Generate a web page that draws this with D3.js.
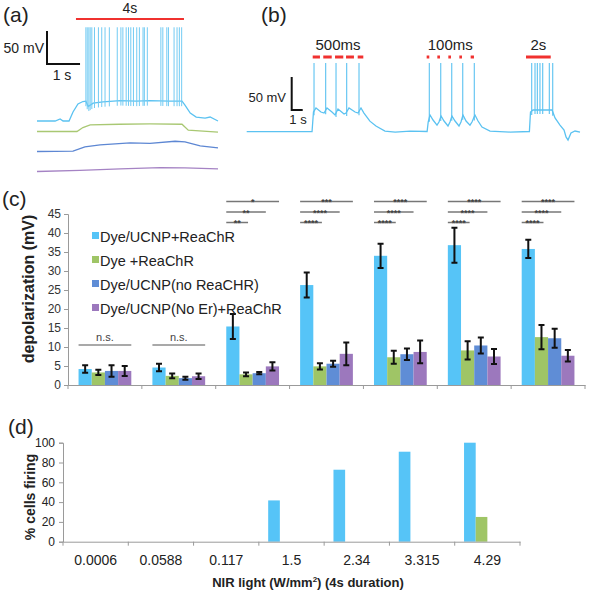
<!DOCTYPE html>
<html><head><meta charset="utf-8">
<script src="https://cdn.jsdelivr.net/npm/d3@7"></script>
<style>body{margin:0;background:#fff}svg{display:block}text{font-family:Arial,"Liberation Sans",sans-serif}</style>
</head><body><svg id="c" width="600" height="590"></svg>
<script>
// ---------- DATA ----------
const intensities = ["0.0006","0.0588","0.117","1.5","2.34","3.315","4.29"];
const seriesNames = ["Dye/UCNP+ReaChR","Dye +ReaChR","Dye/UCNP(no ReaCHR)","Dye/UCNP(No Er)+ReaChR"];
const seriesColors = ["#56c4f7","#9fc566","#5f8dd6","#9c78bd"];
const depolMean = [
  [4.2, 4.6, 15.4, 26.3, 34.0, 36.8, 35.8],
  [3.3, 2.4, 2.8, 4.9, 7.3, 9.1, 12.6],
  [3.7, 1.8, 3.1, 5.6, 8.1, 10.4, 12.3],
  [3.7, 2.3, 4.9, 8.2, 8.7, 7.5, 7.7]
];
const depolErr = [
  [1.0, 1.0, 3.3, 3.3, 3.2, 4.6, 2.4],
  [0.7, 0.6, 0.5, 0.8, 1.7, 2.4, 3.2],
  [1.5, 0.4, 0.3, 0.8, 1.5, 2.1, 2.5],
  [1.3, 0.7, 1.1, 3.0, 3.0, 2.0, 1.5]
];
const depolTicks = [0,5,10,15,20,25,30,35,40,45];
// significance: [groupIndex, [vs purple, vs dark blue, vs green]]
const sigGroups = [2,3,4,5,6];
const sigLabels = [["*","**","**"],["***","****","****"],["****","****","****"],["****","****","****"],["****","****","****"]];
const nsGroups = [0,1];
const firingPct = [
  [0, 0, 0, 41.7, 72.7, 90.9, 100],
  [0, 0, 0, 0, 0, 0, 25]
];
const firingTicks = [0,20,40,60,80,100];

// Panel (a) traces: [time s, mV relative to rest]
const traceA_blue = [[0,0],[0.55,0],[0.70,3],[0.79,0],[0.97,0],[1.09,13.6],[1.24,25.8],[1.39,29.5],[1.48,30],[1.55,22],[1.7,27],[2.0,29],[2.52,31],[3.0,30],[3.42,31],[4.0,30],[4.39,30],[4.48,24],[4.64,12],[4.82,6],[5.09,4.5],[5.24,6],[5.48,0]];
const spikesA = [1.48,1.52,1.57,1.61,1.66,1.74,1.86,1.96,2.06,2.19,2.43,2.54,2.60,2.70,2.77,2.84,2.92,3.02,3.10,3.21,3.25,3.34,3.75,3.81,3.93,3.98,4.15,4.24,4.31,4.38];
const spikePeakA = 142;
const traceA_green = [[0,0],[1.21,0],[1.39,6],[1.61,10],[2.5,11],[3.42,11.5],[4.39,11],[4.58,2],[5.48,-0.8]];
const traceA_dblue = [[0,0],[1.09,0.5],[1.45,7],[1.91,10],[2.82,13],[3.42,12.4],[4.18,15.5],[4.48,14.7],[4.94,8.6],[5.48,5.6]];
const traceA_purple = [[0,0],[1.3,1.8],[2.52,4],[3.73,6],[4.48,5.6],[5.48,4]];
const stimA = [1.18, 4.45];

// Panel (b) trace
const traceB = [[0,0],[5.94,0],[6.07,29.8],[6.3,35.9],[6.75,29.8],[7.03,28.3],[7.3,35.9],[7.75,29.8],[8.03,25.3],[8.3,34.4],[8.85,26.8],[9.03,28.3],[9.3,35.9],[9.85,29.8],[10.12,28.3],[10.39,35.9],[10.66,28.3],[11.2,16],[11.75,8.6],[12.57,1],[13.5,-0.5],[14.85,1],[16.4,0.3],[16.5,14.7],[16.66,25.3],[16.94,17.7],[17.3,10],[17.48,14.7],[17.67,23.8],[17.94,16.2],[18.3,8.6],[18.48,14.7],[18.66,23.8],[18.94,16.2],[19.3,8.6],[19.48,14.7],[19.66,25.3],[19.94,16.2],[20.3,10],[20.48,14.7],[20.75,25.3],[21.03,16.2],[21.39,7.1],[22.12,1],[23.94,-0.5],[25.7,0.3],[25.8,29.8],[26.03,32.9],[27.76,32.9],[28.03,20.8],[28.48,10],[28.85,2.6],[29.03,-8],[29.21,-12.6],[29.48,-2],[29.85,1],[30.3,-0.5]];
const spikesB = [6.12,7.18,8.12,9.09,10.21,16.6,17.64,18.64,19.64,20.69,25.91,26.21,26.42,26.66,26.91,27.51,27.82];
const spikePeakB = 104;
const stimB500 = [[6.0,6.66],[6.96,7.73],[8.03,8.78],[9.03,9.75],[10.09,10.6]];
const stimB100 = [[16.36,16.6],[17.33,17.57],[18.33,18.57],[19.33,19.57],[20.36,20.66]];
const stimB2s = [[25.39,27.64]];

// ---------- DRAW ----------
const svg = d3.select("#c");
const axisGray = "#9a9a9a", textCol = "#222";

function panelLabel(t,x,y){svg.append("text").attr("x",x).attr("y",y).attr("font-size",21).attr("fill",textCol).text(t);}
panelLabel("(a)",3,22); panelLabel("(b)",261,22); panelLabel("(c)",2,206); panelLabel("(d)",8,434);

// Panel (a)
const xA = d3.scaleLinear().domain([0,5.48]).range([37,218]);
const mvPx = 33/50;
const traceBlue = "#5bc2f1";
function drawTrace(data, base, color, xs){
  const y = d3.scaleLinear().domain([0,50]).range([base, base-50*mvPx]);
  svg.append("path").datum(data).attr("fill","none").attr("stroke",color).attr("stroke-width",1.3)
    .attr("d", d3.line().x(d=>xs(d[0])).y(d=>y(d[1])));
  return y;
}
const yAblue = drawTrace(traceA_blue,121,traceBlue,xA);
drawTrace(traceA_green,131.5,"#a9c873",xA);
drawTrace(traceA_dblue,151.5,"#5d87d3",xA);
drawTrace(traceA_purple,171.5,"#a583c4",xA);
const interpA = d3.scaleLinear().domain(traceA_blue.map(d=>d[0])).range(traceA_blue.map(d=>d[1]));
svg.append("g").selectAll("line").data(spikesA).join("line")
  .attr("x1",d=>xA(d)).attr("x2",d=>xA(d)).attr("y1",d=>yAblue(interpA(d))+5).attr("y2",yAblue(spikePeakA))
  .attr("stroke","#72cbf3").attr("stroke-width",1);
svg.append("line").attr("x1",xA(stimA[0])).attr("x2",xA(stimA[1])).attr("y1",19).attr("y2",19).attr("stroke","#f0312f").attr("stroke-width",2);
svg.append("text").attr("x",(xA(stimA[0])+xA(stimA[1]))/2).attr("y",13).attr("text-anchor","middle").attr("font-size",14).attr("fill",textCol).text("4s");
// scale bar a
const sbAx = 47, sbAy = 64;
svg.append("path").attr("d",`M${sbAx},${sbAy-50*mvPx}V${sbAy}H${sbAx + xA(1)-xA(0)}`).attr("fill","none").attr("stroke","#111").attr("stroke-width",2);
svg.append("text").attr("x",44).attr("y",53).attr("text-anchor","end").attr("font-size",14).attr("fill",textCol).text("50 mV");
svg.append("text").attr("x",62).attr("y",80).attr("text-anchor","middle").attr("font-size",14).attr("fill",textCol).text("1 s");

// Panel (b)
const xB = d3.scaleLinear().domain([0,30]).range([246.7,576.7]);
const yB = drawTrace(traceB,131.7,traceBlue,xB);
const interpB = d3.scaleLinear().domain(traceB.map(d=>d[0])).range(traceB.map(d=>d[1]));
svg.append("g").selectAll("line").data(spikesB).join("line")
  .attr("x1",d=>xB(d)).attr("x2",d=>xB(d)).attr("y1",d=>yB(interpB(d))+4).attr("y2",yB(spikePeakB))
  .attr("stroke",traceBlue).attr("stroke-width",1.1);
svg.append("g").selectAll("line").data(stimB500.concat(stimB100,stimB2s)).join("line")
  .attr("x1",d=>xB(d[0])).attr("x2",d=>xB(d[1])).attr("y1",57).attr("y2",57).attr("stroke","#f0312f").attr("stroke-width",3);
[["500ms",stimB500],["100ms",stimB100],["2s",stimB2s]].forEach(([t,s])=>{
  svg.append("text").attr("x",(xB(s[0][0])+xB(s[s.length-1][1]))/2).attr("y",50).attr("text-anchor","middle")
    .attr("font-size",15).attr("fill",textCol).text(t);
});
const sbBx = 291.7, sbBy = 110;
svg.append("path").attr("d",`M${sbBx},${sbBy-50*mvPx}V${sbBy}H${sbBx + xB(1)-xB(0)}`).attr("fill","none").attr("stroke","#111").attr("stroke-width",2);
svg.append("text").attr("x",286).attr("y",102).attr("text-anchor","end").attr("font-size",13).attr("fill",textCol).text("50 mV");
svg.append("text").attr("x",298).attr("y",124).attr("text-anchor","middle").attr("font-size",13).attr("fill",textCol).text("1 s");

// Panel (c)
const x0c = d3.scaleBand().domain(intensities).range([68,585]).padding(0);
const x1c = d3.scaleBand().domain(d3.range(4)).range([0,x0c.bandwidth()]).paddingInner(0).paddingOuter(0.8);
const yc = d3.scaleLinear().domain([0,45]).range([385,214]);
const gc = svg.append("g");
seriesNames.forEach((s,si)=>{
  gc.append("g").selectAll("rect").data(intensities).join("rect")
    .attr("x",c=>x0c(c)+x1c(si)).attr("width",x1c.bandwidth())
    .attr("y",(c,i)=>yc(depolMean[si][i])).attr("height",(c,i)=>yc(0)-yc(depolMean[si][i]))
    .attr("fill",seriesColors[si]);
});
seriesNames.forEach((s,si)=>{
  intensities.forEach((c,i)=>{
    const cx = x0c(c)+x1c(si)+x1c.bandwidth()/2;
    const hi = yc(depolMean[si][i]+depolErr[si][i]), lo = yc(depolMean[si][i]-depolErr[si][i]);
    gc.append("path").attr("d",`M${cx},${hi}V${lo}M${cx-3},${hi}H${cx+3}M${cx-3},${lo}H${cx+3}`)
      .attr("stroke","#111").attr("stroke-width",2).attr("fill","none");
  });
});
const yAxC = gc.append("g").attr("transform","translate(68,0)").call(d3.axisLeft(yc).tickValues(depolTicks).tickSize(4).tickPadding(3));
const xAxC = gc.append("g").attr("transform","translate(0,385)").call(d3.axisBottom(x0c).tickValues([]).tickSizeOuter(0));
xAxC.selectAll(".b").data(intensities.concat(["end"])).join("line").attr("class","b")
  .attr("x1",(c,i)=>i<7?x0c(c):585).attr("x2",(c,i)=>i<7?x0c(c):585).attr("y1",0).attr("y2",4).attr("stroke",axisGray);
[yAxC,xAxC].forEach(a=>{a.select(".domain").attr("stroke",axisGray);a.selectAll(".tick line").attr("stroke",axisGray);
  a.selectAll(".tick text").attr("font-size",12).attr("fill","#333").attr("font-family","Arial, Liberation Sans");});
svg.append("text").attr("transform","translate(34,289) rotate(-90)").attr("text-anchor","middle")
  .attr("font-size",16).attr("font-weight","bold").attr("fill",textCol).text("depolarization (mV)");
// legend
const lg = svg.append("g");
seriesNames.forEach((s,i)=>{
  const yy = 236 + i*24;
  lg.append("rect").attr("x",92).attr("y",yy-4).attr("width",7).attr("height",7).attr("fill",seriesColors[i]);
  lg.append("text").attr("x",100).attr("y",yy+5.5).attr("font-size",14.5).attr("fill",textCol).text(s);
});
// significance
const sigY = [201.5,212,222.5];
sigGroups.forEach((g,k)=>{
  const c = intensities[g];
  const x0 = x0c(c)+x1c(0);
  const ends = [x0c(c)+x1c(3)+x1c.bandwidth(), x0c(c)+x1c(2)+x1c.bandwidth(), x0c(c)+x1c(1)+x1c.bandwidth()/2+2];
  ends.forEach((xe,j)=>{
    gc.append("line").attr("x1",x0).attr("x2",xe).attr("y1",sigY[j]).attr("y2",sigY[j]).attr("stroke","#777").attr("stroke-width",1.5);
    gc.append("text").attr("x",(x0+xe)/2).attr("y",sigY[j]+3.5).attr("text-anchor","middle").attr("font-size",9)
      .attr("font-weight","bold").attr("fill","#444").text(sigLabels[k][j]);
  });
});
nsGroups.forEach(g=>{
  const c = intensities[g];
  const xa = x0c(c)+x1c(0), xe = x0c(c)+x1c(3)+x1c.bandwidth();
  gc.append("line").attr("x1",xa).attr("x2",xe).attr("y1",345).attr("y2",345).attr("stroke","#555").attr("stroke-width",1.2);
  gc.append("text").attr("x",(xa+xe)/2).attr("y",341).attr("text-anchor","middle").attr("font-size",11).attr("fill","#444").text("n.s.");
});

// Panel (d)
const x0d = d3.scaleBand().domain(intensities).range([63,520]).padding(0);
const x1d = d3.scaleBand().domain(d3.range(4)).range([0,x0d.bandwidth()]).paddingInner(0).paddingOuter(0.8);
const yd = d3.scaleLinear().domain([0,100]).range([541.7,442.7]);
const gd = svg.append("g");
firingPct.forEach((arr,si)=>{
  gd.append("g").selectAll("rect").data(intensities).join("rect")
    .attr("x",c=>x0d(c)+x1d(si)).attr("width",x1d.bandwidth())
    .attr("y",(c,i)=>yd(arr[i])).attr("height",(c,i)=>yd(0)-yd(arr[i])).attr("fill",seriesColors[si]);
});
const yAxD = gd.append("g").attr("transform","translate(63,0)").call(d3.axisLeft(yd).tickValues(firingTicks).tickSize(4).tickPadding(4));
const xAxD = gd.append("g").attr("transform","translate(0,541.7)").call(d3.axisBottom(x0d).tickSize(0).tickPadding(13).tickSizeOuter(0));
xAxD.selectAll(".b").data(intensities.concat(["end"])).join("line").attr("class","b")
  .attr("x1",(c,i)=>i<7?x0d(c):520).attr("x2",(c,i)=>i<7?x0d(c):520).attr("y1",0).attr("y2",4).attr("stroke",axisGray);
[yAxD,xAxD].forEach(a=>{a.select(".domain").attr("stroke",axisGray);a.selectAll(".tick line").attr("stroke",axisGray);
  a.selectAll(".tick text").attr("fill","#222").attr("font-family","Arial, Liberation Sans");});
yAxD.selectAll(".tick text").attr("font-size",12);
xAxD.selectAll(".tick text").attr("font-size",14);
svg.append("text").attr("transform","translate(35,497) rotate(-90)").attr("text-anchor","middle")
  .attr("font-size",14).attr("font-weight","bold").attr("fill",textCol).text("% cells firing");
const xt = svg.append("text").attr("x",308).attr("y",587).attr("text-anchor","middle").attr("font-size",13).attr("font-weight","bold").attr("fill",textCol);
xt.append("tspan").text("NIR light (W/mm");
xt.append("tspan").attr("dy",-5).attr("font-size",8).text("2");
xt.append("tspan").attr("dy",5).text(") (4s duration)");
</script></body></html>
